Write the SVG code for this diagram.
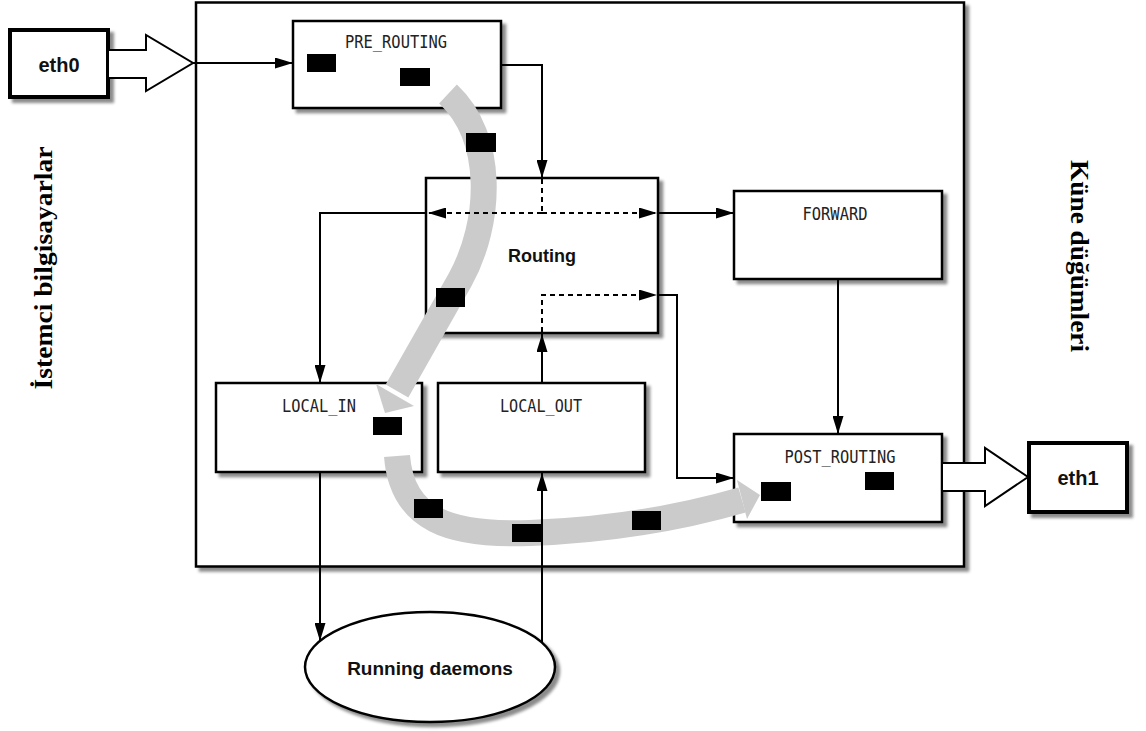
<svg xmlns="http://www.w3.org/2000/svg" width="1146" height="731" viewBox="0 0 1146 731">
  <defs>
    <filter id="shadow" x="-10%" y="-10%" width="130%" height="130%">
      <feDropShadow dx="4" dy="4" stdDeviation="1.5" flood-color="#000" flood-opacity="0.45"/>
    </filter>
    <marker id="ah" markerUnits="userSpaceOnUse" markerWidth="18" markerHeight="11" refX="18" refY="5.5" orient="auto">
      <path d="M0,0 L18,5.5 L0,11 z" fill="#000"/>
    </marker>
    <style>
      .box { fill: #fff; stroke: #000; stroke-width: 2.5; filter: url(#shadow); }
      .port { fill: #fff; stroke: #000; stroke-width: 4; filter: url(#shadow); }
      .hollow { fill: #fff; stroke: #000; stroke-width: 2; stroke-linejoin: miter; }
      .hook { fill: #000; }
      .mono { font-family: "DejaVu Sans Mono", "Liberation Mono", monospace; font-size: 17px; fill: #222; text-anchor: middle; }
      .bold { font-family: "Liberation Sans", Arial, sans-serif; font-weight: bold; fill: #111; text-anchor: middle; }
      .side { font-family: "Liberation Serif", "Times New Roman", serif; font-weight: bold; font-size: 26px; fill: #000; text-anchor: middle; }
      .line { fill: none; stroke: #000; stroke-width: 2; }
      .dash { fill: none; stroke: #000; stroke-width: 2; stroke-dasharray: 5 4; }
      .band { fill: none; stroke: #cbcbcb; stroke-width: 26; stroke-linecap: butt; }
      .bandhead { fill: #cbcbcb; }
    </style>
  </defs>

  <rect width="1146" height="731" fill="#fff"/>

  <!-- host boundary -->
  <g id="host">
    <rect class="box" x="196" y="2.5" width="768" height="564"/>
  </g>

  <!-- side captions -->
  <text class="side" transform="translate(52,268) rotate(-90)" textLength="243" lengthAdjust="spacingAndGlyphs">İstemci bilgisayarlar</text>
  <text class="side" transform="translate(1071,256) rotate(90)" textLength="192" lengthAdjust="spacingAndGlyphs">Küne düğümleri</text>

  <!-- interfaces -->
  <g id="eth0">
    <rect class="port" x="10" y="30" width="98" height="67"/>
    <text class="bold" x="59" y="72" font-size="20">eth0</text>
  </g>
  <g id="eth0-in">
    <polygon class="hollow" points="108,50 146,50 146,35 193,63 146,91 146,78 108,78"/>
  </g>
  <g id="eth1">
    <rect class="port" x="1029" y="443" width="98" height="69"/>
    <text class="bold" x="1078" y="485" font-size="20">eth1</text>
  </g>

  <!-- netfilter hooks -->
  <g id="pre-routing">
    <rect class="box" x="293" y="21" width="208" height="87"/>
    <text class="mono" x="396" y="48" textLength="102" lengthAdjust="spacingAndGlyphs">PRE_ROUTING</text>
  </g>
  <g id="routing">
    <rect class="box" x="426" y="178" width="232" height="155"/>
    <text class="bold" x="542" y="262" font-size="18">Routing</text>
  </g>
  <g id="forward">
    <rect class="box" x="734" y="191" width="208" height="88"/>
    <text class="mono" x="835" y="220" textLength="65" lengthAdjust="spacingAndGlyphs">FORWARD</text>
  </g>
  <g id="local-in">
    <rect class="box" x="216" y="383" width="206" height="89"/>
    <text class="mono" x="319" y="412" textLength="74" lengthAdjust="spacingAndGlyphs">LOCAL_IN</text>
  </g>
  <g id="local-out">
    <rect class="box" x="438" y="383" width="207" height="89"/>
    <text class="mono" x="541" y="412" textLength="82" lengthAdjust="spacingAndGlyphs">LOCAL_OUT</text>
  </g>
  <g id="post-routing">
    <rect class="box" x="734" y="434" width="208" height="88"/>
    <text class="mono" x="840" y="463" textLength="111" lengthAdjust="spacingAndGlyphs">POST_ROUTING</text>
  </g>
  <g id="eth1-out">
    <polygon class="hollow" points="942,463 985,463 985,448 1028,477 985,506 985,491 942,491"/>
  </g>
  <g id="daemons">
    <ellipse cx="430" cy="667" rx="125" ry="55" fill="#fff" stroke="#000" stroke-width="2.5" filter="url(#shadow)"/>
    <text class="bold" x="430" y="675" font-size="19">Running daemons</text>
  </g>

  <!-- packet path for locally delivered traffic -->
  <g id="packet-path">
    <path class="band" d="M448 94 C495 138, 492 222, 460 280 L397 391"/>
    <polygon class="bandhead" points="376,384 414,406 385,413"/>
    <path class="band" d="M397 456 C402 520, 450 536, 530 533 C610 530, 680 518, 742 500"/>
    <polygon class="bandhead" points="737,480 747,519 760,495"/>
  </g>

  <!-- connectors -->
  <g id="connectors">
    <path class="line" d="M193 63 H293" marker-end="url(#ah)"/>
    <path class="line" d="M501 65 H542 V178" marker-end="url(#ah)"/>
    <path class="dash" d="M542 179 V213"/>
    <path class="dash" d="M542 213 H428" marker-end="url(#ah)"/>
    <path class="dash" d="M542 213 H657" marker-end="url(#ah)"/>
    <path class="line" d="M427 213 H320 V383" marker-end="url(#ah)"/>
    <path class="line" d="M658 213 H734" marker-end="url(#ah)"/>
    <path class="dash" d="M542 332 V295 H657" marker-end="url(#ah)"/>
    <path class="line" d="M658 295 H677 V478 H734" marker-end="url(#ah)"/>
    <path class="line" d="M838 279 V434" marker-end="url(#ah)"/>
    <path class="line" d="M542 383 V334" marker-end="url(#ah)"/>
    <path class="line" d="M320 472 V641" marker-end="url(#ah)"/>
    <path class="line" d="M542 643 V473" marker-end="url(#ah)"/>
  </g>

  <!-- registered hook functions -->
  <g id="hooks">
    <rect class="hook" x="307" y="54" width="29" height="18"/>
    <rect class="hook" x="400" y="68" width="30" height="18"/>
    <rect class="hook" x="466" y="133" width="30" height="19"/>
    <rect class="hook" x="436" y="288" width="29" height="19"/>
    <rect class="hook" x="373" y="417" width="29" height="18"/>
    <rect class="hook" x="414" y="499" width="29" height="19"/>
    <rect class="hook" x="512" y="524" width="29" height="18"/>
    <rect class="hook" x="632" y="511" width="29" height="19"/>
    <rect class="hook" x="761" y="482" width="30" height="19"/>
    <rect class="hook" x="865" y="472" width="29" height="18"/>
  </g>
</svg>
